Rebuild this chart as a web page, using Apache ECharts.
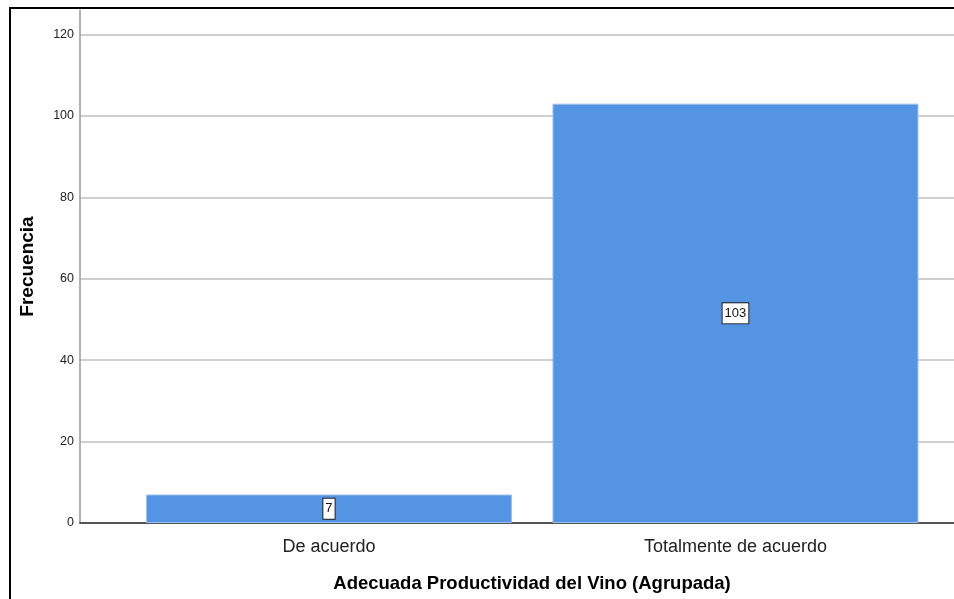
<!DOCTYPE html>
<html>
<head>
<meta charset="utf-8">
<script src="https://cdn.jsdelivr.net/npm/echarts@6/dist/echarts.min.js"></script>
<style>
  html, body { margin: 0; padding: 0; background: #fff; }
  #chart-bar { width: 954px; height: 599px; }
</style>
</head>
<body>
<div id="chart-bar"></div>
<script>
// datos
const categorias = ["De acuerdo", "Totalmente de acuerdo"];
const frecuencias = [7, 103];
const ticksY = [0, 20, 40, 60, 80, 100, 120];

const fuente = "'Liberation Sans', Arial, sans-serif";

const chartBar = echarts.init(document.getElementById("chart-bar"));

const datos = frecuencias.map((v, i) => [i, v]);

const option = {
  animation: false,
  backgroundColor: "#fff",
  grid: {
    left: 80,
    right: 0,
    top: 10,
    bottom: 76,
    containLabel: false,
  },
  xAxis: {
    type: "value",
    min: -0.6125,
    max: 1.5376,
    splitLine: { show: false },
    axisTick: { show: false },
    axisLine: {
      show: true,
      onZero: true,
      lineStyle: { color: "#555", width: 2 },
    },
    axisLabel: {
      customValues: [0, 1],
      formatter: (v) => categorias[Math.round(v)] || "",
      fontFamily: fuente,
      fontSize: 18,
      color: "#222",
      margin: 15,
    },
  },
  yAxis: {
    type: "value",
    min: 0,
    max: 126,
    name: "Frecuencia",
    nameLocation: "middle",
    nameGap: 43,
    nameTextStyle: {
      fontFamily: fuente,
      fontSize: 19,
      fontWeight: "bold",
      color: "#000",
    },
    axisLine: {
      show: true,
      onZero: false,
      lineStyle: { color: "#999", width: 1.5 },
    },
    axisTick: { show: false, customValues: ticksY },
    axisLabel: {
      customValues: ticksY,
      fontFamily: fuente,
      fontSize: 12.5,
      color: "#222",
      margin: 6,
    },
    splitLine: {
      show: true,
      lineStyle: { color: "#cfcfcf", width: 2 },
    },
  },
  series: [
    {
      type: "bar",
      data: datos,
      barWidth: 366,
      itemStyle: {
        color: "#5594e3",
        borderColor: "#9cc0ee",
        borderWidth: 1,
      },
      label: {
        show: true,
        position: "inside",
        formatter: (p) => p.value[1],
        fontFamily: fuente,
        fontSize: 13,
        color: "#111",
        backgroundColor: "#fff",
        borderColor: "#222",
        borderWidth: 1,
        padding: [4, 2, 3, 2],
      },
    },
  ],
  graphic: [
    {
      // marco exterior (izquierda y arriba)
      type: "polyline",
      shape: { points: [[10, 599], [10, 8], [954, 8]] },
      style: { stroke: "#000", lineWidth: 2, fill: null },
      silent: true,
    },
    {
      type: "text",
      x: 532,
      y: 584,
      style: {
        text: "Adecuada Productividad del Vino (Agrupada)",
        font: "bold 18.5px " + fuente,
        fill: "#000",
        textAlign: "center",
        textVerticalAlign: "middle",
      },
    },
  ],
};

chartBar.setOption(option);
</script>
</body>
</html>
